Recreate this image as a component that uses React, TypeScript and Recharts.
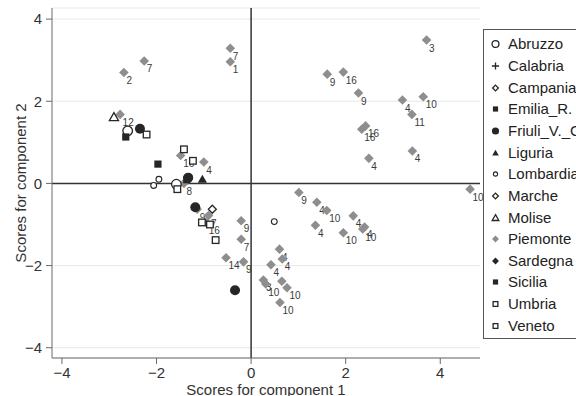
import React from 'react';
import { ScatterChart, Scatter, XAxis, YAxis, CartesianGrid, ReferenceLine, Label } from 'recharts';

const xTicks = [-4, -2, 0, 2, 4];
const yTicks = [-4, -2, 0, 2, 4];

const regionNames = ["Abruzzo", "Calabria", "Campania", "Emilia_R.", "Friuli_V._Giulia", "Liguria", "Lombardia", "Marche", "Molise", "Piemonte", "Sardegna", "Sicilia", "Umbria", "Veneto"];

const abruzzo = [{ x: -2.61, y: 1.28 }, { x: -1.58, y: -0.02 }];
const calabria: { x: number; y: number }[] = [];
const campania = [{ x: -0.82, y: -0.63 }];
const emilia = [{ x: -2.65, y: 1.13 }, { x: -1.36, y: 0.09 }];
const friuli = [{ x: -2.35, y: 1.33 }, { x: -1.33, y: 0.14 }, { x: -1.18, y: -0.58 }, { x: -0.34, y: -2.6 }];
const liguria = [{ x: -1.03, y: 0.1 }];
const lombardia = [{ x: -1.95, y: 0.1 }, { x: -2.06, y: -0.05 }, { x: 0.49, y: -0.93 }];
const marche: { x: number; y: number }[] = [];
const molise = [{ x: -2.9, y: 1.61 }];
const piemonte = [
  { x: -0.44, y: 3.29, lab: "7" }, { x: -0.44, y: 2.96, lab: "1" }, { x: -2.26, y: 2.98, lab: "7" },
  { x: -2.69, y: 2.7, lab: "2" }, { x: -2.77, y: 1.68, lab: "12" }, { x: -1.49, y: 0.68, lab: "16" },
  { x: -1.0, y: 0.52, lab: "4" }, { x: -1.42, y: 0.0, lab: "8" }, { x: -1.14, y: -0.63, lab: "9" },
  { x: -0.9, y: -0.78, lab: "7" }, { x: -0.95, y: -0.95, lab: "16" }, { x: -0.21, y: -0.91, lab: "9" },
  { x: -0.21, y: -1.36, lab: "7" }, { x: -0.53, y: -1.81, lab: "14" }, { x: -0.16, y: -1.91, lab: "9" },
  { x: 0.6, y: -1.6, lab: "4" }, { x: 0.66, y: -1.84, lab: "4" }, { x: 0.42, y: -1.98, lab: "4" },
  { x: 0.26, y: -2.35, lab: "3" }, { x: 0.31, y: -2.45, lab: "10" }, { x: 0.65, y: -2.38, lab: "" },
  { x: 0.76, y: -2.54, lab: "10" }, { x: 0.61, y: -2.9, lab: "10" }, { x: 1.01, y: -0.22, lab: "9" },
  { x: 1.39, y: -0.46, lab: "4" }, { x: 1.6, y: -0.66, lab: "10" }, { x: 1.36, y: -1.02, lab: "4" },
  { x: 2.16, y: -0.79, lab: "4" }, { x: 2.4, y: -1.06, lab: "4" }, { x: 2.36, y: -1.11, lab: "10" },
  { x: 1.95, y: -1.2, lab: "10" }, { x: 4.63, y: -0.14, lab: "10" }, { x: 3.71, y: 3.49, lab: "3" },
  { x: 1.61, y: 2.66, lab: "9" }, { x: 1.95, y: 2.71, lab: "16" }, { x: 2.27, y: 2.2, lab: "9" },
  { x: 3.2, y: 2.03, lab: "4" }, { x: 3.64, y: 2.11, lab: "10" }, { x: 3.4, y: 1.68, lab: "11" },
  { x: 2.42, y: 1.4, lab: "16" }, { x: 2.34, y: 1.32, lab: "16" }, { x: 3.41, y: 0.79, lab: "4" },
  { x: 2.49, y: 0.61, lab: "4" },
];
const sardegna: { x: number; y: number }[] = [];
const sicilia = [{ x: -1.97, y: 0.47 }];
const umbria = [{ x: -2.21, y: 1.19 }, { x: -1.23, y: 0.55 }, { x: -1.04, y: -0.95 }];
const veneto = [{ x: -1.42, y: 0.83 }, { x: -1.56, y: -0.14 }, { x: -0.87, y: -1.0 }, { x: -0.75, y: -1.38 }];

const DARK = '#262626';
const GRAY = '#8e8e8e';

const kinds = ["circleO", "plus", "diamondOs", "squareFs", "circleF", "triF", "circleOs", "diamondO", "triO", "diamondG", "diamondF", "squareF", "squareO", "squareO"];
const seriesData = [abruzzo, calabria, campania, emilia, friuli, liguria, lombardia, marche, molise, piemonte, sardegna, sicilia, umbria, veneto];

function Marker({ kind, cx, cy, s = 1 }: { kind: string; cx: number; cy: number; s?: number }) {
  const sw = 1.3;
  switch (kind) {
    case 'circleO': return <circle cx={cx} cy={cy} r={4.8 * s} fill="#fff" stroke={DARK} strokeWidth={sw} />;
    case 'circleOs': return <circle cx={cx} cy={cy} r={2.9 * s} fill="#fff" stroke={DARK} strokeWidth={1.1} />;
    case 'circleF': return <circle cx={cx} cy={cy} r={5 * s} fill={DARK} />;
    case 'plus': return <path d={`M${cx - 5 * s},${cy}H${cx + 5 * s}M${cx},${cy - 5 * s}V${cy + 5 * s}`} stroke={DARK} strokeWidth={1.3} />;
    case 'diamondOs': case 'diamondO': {
      const h = 4 * s;
      return <path d={`M${cx},${cy - h}L${cx + h},${cy}L${cx},${cy + h}L${cx - h},${cy}Z`} fill="#fff" stroke={DARK} strokeWidth={1.3} />;
    }
    case 'diamondG': case 'diamondF': {
      const h = 4.8 * s;
      return <path d={`M${cx},${cy - h}L${cx + h},${cy}L${cx},${cy + h}L${cx - h},${cy}Z`} fill={kind === 'diamondG' ? GRAY : DARK} />;
    }
    case 'squareFs': case 'squareF': {
      const h = 3.6 * s;
      return <rect x={cx - h} y={cy - h} width={2 * h} height={2 * h} fill={DARK} />;
    }
    case 'squareO': {
      const h = 3.3 * s;
      return <rect x={cx - h} y={cy - h} width={2 * h} height={2 * h} fill="#fff" stroke={DARK} strokeWidth={1.3} />;
    }
    case 'triF': case 'triO': {
      const h = 4.6 * s;
      return <path d={`M${cx},${cy - h}L${cx + h},${cy + h * 0.75}L${cx - h},${cy + h * 0.75}Z`} fill={kind === 'triF' ? DARK : '#fff'} stroke={DARK} strokeWidth={kind === 'triF' ? 0 : 1.3} />;
    }
    default: return null;
  }
}

const makeShape = (kind: string) => (p: any) => {
  const { cx, cy, payload } = p;
  if (cx == null || cy == null) return <g />;
  return (
    <g>
      <Marker kind={kind} cx={cx} cy={cy} />
      {payload && payload.lab ? (
        <text x={cx + 2.5} y={cy + 11.5} fontSize={10} fill="#3a3a3a" stroke="none" fontFamily="Liberation Sans, Arial, sans-serif">{payload.lab}</text>
      ) : null}
    </g>
  );
};

const fmt = (v: number) => String(v).replace('-', '\u2212');
const FONT = 'Liberation Sans, Arial, sans-serif';

const order = [9, 0, 1, 2, 3, 4, 5, 6, 7, 8, 10, 11, 12, 13];

export default function App() {
  return (
    <div style={{ position: 'absolute', left: 0, top: 0, width: 576, height: 396, overflow: 'hidden', background: '#fff', fontFamily: FONT }}>
      <ScatterChart width={576} height={396} margin={{ top: 8, right: 96, bottom: 0, left: 12 }}>
        <CartesianGrid vertical={false} stroke="#e8e8e8" />
        <XAxis type="number" dataKey="x" domain={[-4.21, 4.84]} ticks={xTicks} height={38}
          tickFormatter={fmt} tick={{ fontSize: 15, fill: '#333', fontFamily: FONT }} stroke="#6a6a6a" tickSize={6} tickMargin={3}>
          <Label content={(props: any) => {
            const vb = props.viewBox || { x: 52, y: 358, width: 428 };
            return <text x={vb.x + vb.width / 2} y={vb.y + 37} textAnchor="middle" fontSize={15} fill="#333" fontFamily={FONT}>Scores for component 1</text>;
          }} />
        </XAxis>
        <YAxis type="number" dataKey="y" domain={[-4.25, 4.27]} ticks={yTicks} width={40}
          tickFormatter={fmt} tick={{ fontSize: 15, fill: '#333', fontFamily: FONT }} stroke="#6a6a6a" tickSize={6} tickMargin={4}>
          <Label content={(props: any) => {
            const vb = props.viewBox || { x: 12, y: 8, height: 350 };
            const cy = vb.y + vb.height / 2;
            return <text x={20} y={cy} transform={`rotate(-90 20 ${cy})`} textAnchor="middle" dominantBaseline="central" fontSize={15} fill="#333" fontFamily={FONT}>Scores for component 2</text>;
          }} />
        </YAxis>
        <ReferenceLine x={0} stroke="#333" strokeWidth={1.5} />
        <ReferenceLine y={0} stroke="#333" strokeWidth={1.5} />
        {order.map((i) => (
          <Scatter key={regionNames[i]} name={regionNames[i]} data={seriesData[i]} isAnimationActive={false} shape={makeShape(kinds[i])} />
        ))}
      </ScatterChart>
      <div style={{ position: 'absolute', left: 483, top: 29, width: 120, height: 308, border: '1px solid #555', background: '#fff' }}>
        {regionNames.map((n, i) => (
          <div key={n} style={{ position: 'absolute', left: 0, top: 3.5 + i * 21.65, height: 21.65, display: 'flex', alignItems: 'center', whiteSpace: 'nowrap' }}>
            <svg width={22} height={20} style={{ display: 'block' }}>
              <Marker kind={kinds[i]} cx={11.5} cy={10} s={0.72} />
            </svg>
            <span style={{ fontSize: 15, color: '#222', marginLeft: 2, lineHeight: '20px' }}>{n}</span>
          </div>
        ))}
      </div>
    </div>
  );
}
